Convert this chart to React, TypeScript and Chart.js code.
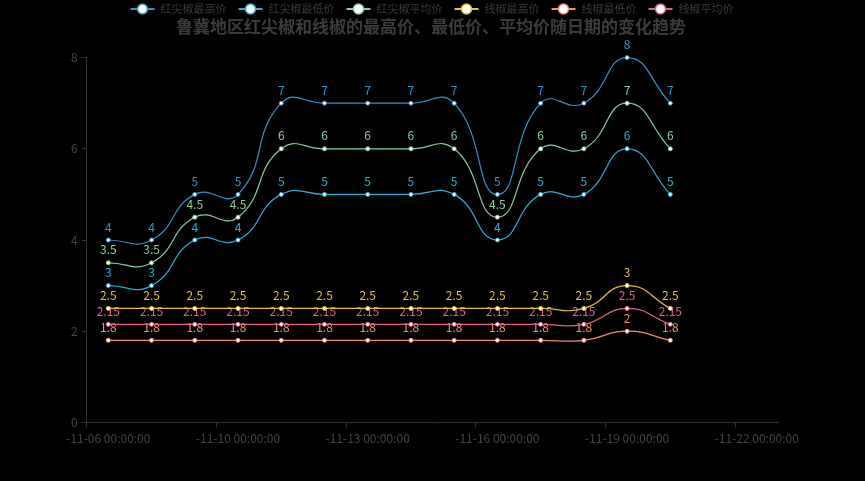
import React, { useEffect, useRef } from 'react';
import { Chart, registerables } from 'chart.js';

Chart.register(...registerables);

const chartTitle = '鲁冀地区红尖椒和线椒的最高价、最低价、平均价随日期的变化趋势';
const dates = ['11-07', '11-08', '11-09', '11-10', '11-11', '11-12', '11-13', '11-14', '11-15', '11-16', '11-17', '11-18', '11-19', '11-20'];
const seriesNames = ['红尖椒最高价', '红尖椒最低价', '红尖椒平均价', '线椒最高价', '线椒最低价', '线椒平均价'];
const redPepperMax = [4, 4, 5, 5, 7, 7, 7, 7, 7, 5, 7, 7, 8, 7];
const redPepperMin = [3, 3, 4, 4, 5, 5, 5, 5, 5, 4, 5, 5, 6, 5];
const redPepperAvg = [3.5, 3.5, 4.5, 4.5, 6, 6, 6, 6, 6, 4.5, 6, 6, 7, 6];
const linePepperMax = [2.5, 2.5, 2.5, 2.5, 2.5, 2.5, 2.5, 2.5, 2.5, 2.5, 2.5, 2.5, 3, 2.5];
const linePepperMin = [1.8, 1.8, 1.8, 1.8, 1.8, 1.8, 1.8, 1.8, 1.8, 1.8, 1.8, 1.8, 2, 1.8];
const linePepperAvg = [2.15, 2.15, 2.15, 2.15, 2.15, 2.15, 2.15, 2.15, 2.15, 2.15, 2.15, 2.15, 2.5, 2.15];
const seriesColors = ['#2f95d0', '#29b0dc', '#8ccf9c', '#e6bf3c', '#ef8f6d', '#e3608a'];
const xTickValues = [6.5, 9.5, 12.5, 15.5, 18.5, 21.5];
const xTickLabels = ['-11-06 00:00:00', '-11-10 00:00:00', '-11-13 00:00:00', '-11-16 00:00:00', '-11-19 00:00:00', '-11-22 00:00:00'];
const yMin = 0;
const yMax = 8;
const yStep = 2;

const FONT = '"Noto Sans CJK SC", "Noto Sans", sans-serif';

const allSeries = [redPepperMax, redPepperMin, redPepperAvg, linePepperMax, linePepperMin, linePepperAvg];

const dayOf = (d: string) => parseInt(d.split('-')[1], 10);

const bgPlugin = {
  id: 'bg',
  beforeDraw(chart: any) {
    const ctx = chart.ctx;
    ctx.save();
    ctx.fillStyle = '#000';
    ctx.fillRect(0, 0, chart.width, chart.height);
    ctx.restore();
  },
};

const valueLabelPlugin = {
  id: 'valueLabels',
  beforeDatasetsDraw(chart: any) {
    const ctx = chart.ctx;
    ctx.save();
    ctx.font = `12px ${FONT}`;
    ctx.textAlign = 'center';
    ctx.textBaseline = 'middle';
    chart.data.datasets.forEach((ds: any, i: number) => {
      const meta = chart.getDatasetMeta(i);
      ctx.fillStyle = seriesColors[i];
      meta.data.forEach((el: any, j: number) => {
        const v = ds.data[j].y;
        ctx.fillText(String(v), el.x, el.y - 13);
      });
    });
    ctx.restore();
  },
};

const legendTitlePlugin = {
  id: 'legendTitle',
  afterDraw(chart: any) {
    const ctx = chart.ctx;
    ctx.save();
    ctx.font = `11px ${FONT}`;
    const iconW = 24;
    const textGap = 6;
    const itemGap = 12;
    const widths = seriesNames.map((n) => iconW + textGap + ctx.measureText(n).width);
    const total = widths.reduce((a, b) => a + b, 0) + itemGap * (seriesNames.length - 1);
    let x = 432 - total / 2;
    const ly = 9;
    seriesNames.forEach((n, i) => {
      ctx.strokeStyle = seriesColors[i];
      ctx.lineWidth = 2;
      ctx.beginPath();
      ctx.moveTo(x, ly);
      ctx.lineTo(x + iconW, ly);
      ctx.stroke();
      ctx.beginPath();
      ctx.arc(x + iconW / 2, ly, 5, 0, Math.PI * 2);
      ctx.fillStyle = '#fff';
      ctx.fill();
      ctx.lineWidth = 1.5;
      ctx.stroke();
      ctx.fillStyle = '#3a3a3a';
      ctx.textAlign = 'left';
      ctx.textBaseline = 'middle';
      ctx.fillText(n, x + iconW + textGap, ly);
      x += widths[i] + itemGap;
    });
    ctx.font = `bold 17px ${FONT}`;
    ctx.fillStyle = '#3c3c3c';
    ctx.textAlign = 'center';
    ctx.textBaseline = 'middle';
    ctx.fillText(chartTitle, 431, 27);
    ctx.restore();
  },
};

export default function App() {
  const ref = useRef<HTMLCanvasElement | null>(null);

  useEffect(() => {
    if (!ref.current) return;
    const datasets = allSeries.map((vals, i) => ({
      label: seriesNames[i],
      data: vals.map((v, j) => ({ x: dayOf(dates[j]), y: v })),
      borderColor: seriesColors[i],
      backgroundColor: seriesColors[i],
      borderWidth: 1.2,
      tension: 0.5,
      pointRadius: 2,
      pointBorderWidth: 1,
      pointBackgroundColor: '#fff',
      pointBorderColor: seriesColors[i],
      clip: false as any,
      fill: false,
    }));

    const chart = new Chart(ref.current, {
      type: 'line',
      data: { datasets },
      plugins: [bgPlugin, valueLabelPlugin, legendTitlePlugin],
      options: {
        animation: false,
        responsive: false,
        devicePixelRatio: 1,
        layout: { padding: { left: 0, right: 86.6, top: 57.6, bottom: 28.6 } },
        plugins: {
          legend: { display: false },
          title: { display: false },
          tooltip: { enabled: false },
        },
        scales: {
          x: {
            type: 'linear',
            min: 6.5,
            max: 22.5,
            afterBuildTicks: (scale: any) => {
              scale.ticks = xTickValues.map((v) => ({ value: v }));
            },
            afterFit: (scale: any) => {
              scale.height = 30;
            },
            grid: { display: true, drawOnChartArea: false, drawTicks: true, tickLength: 5, color: '#333' },
            border: { display: true, color: '#333' },
            ticks: {
              autoSkip: false,
              maxRotation: 0,
              minRotation: 0,
              labelOffset: 21.6,
              padding: 4,
              color: '#444',
              font: { size: 12, family: FONT },
              callback: (_v: any, i: number) => xTickLabels[i],
            },
          },
          y: {
            type: 'linear',
            min: yMin,
            max: yMax,
            afterFit: (scale: any) => {
              scale.width = 86.7;
            },
            grid: { display: true, drawOnChartArea: false, drawTicks: true, tickLength: 5, color: '#333' },
            border: { display: true, color: '#333' },
            ticks: {
              stepSize: yStep,
              padding: 4,
              color: '#444',
              font: { size: 12, family: FONT },
            },
          },
        },
      },
    });
    return () => chart.destroy();
  }, []);

  return (
    <div style={{ position: 'fixed', left: 0, top: 0, width: 865, height: 481, background: '#000' }}>
      <canvas ref={ref} width={865} height={481} style={{ display: 'block', width: 865, height: 481 }} />
    </div>
  );
}
